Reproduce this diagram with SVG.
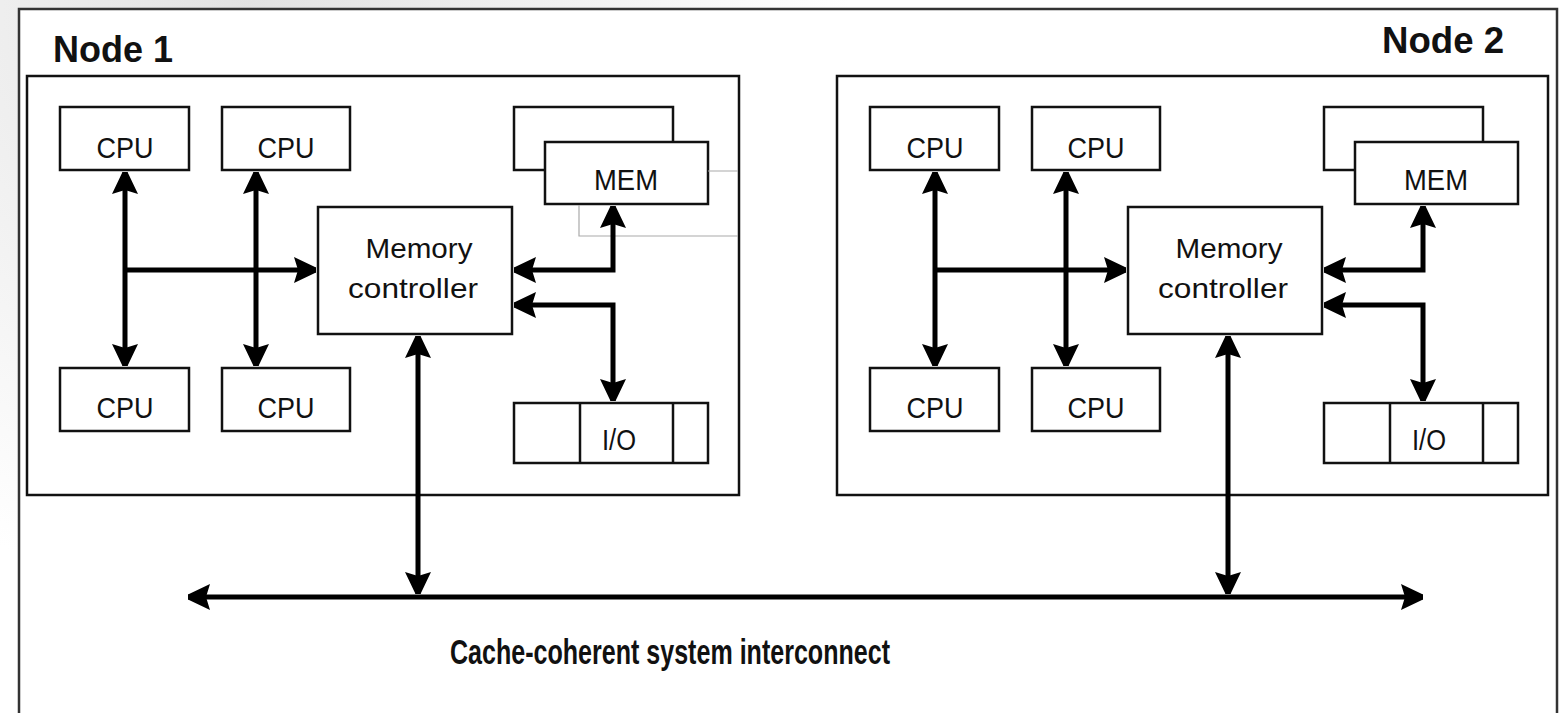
<svg xmlns="http://www.w3.org/2000/svg" width="1561" height="713" viewBox="0 0 1561 713">
<defs>
<radialGradient id="bg" cx="250" cy="0" r="600" gradientUnits="userSpaceOnUse">
<stop offset="0" stop-color="#e2e2e2"/>
<stop offset="1" stop-color="#ffffff"/>
</radialGradient>
<marker id="arr" viewBox="0 0 22 26" refX="22" refY="13" markerWidth="22" markerHeight="26" markerUnits="userSpaceOnUse" orient="auto-start-reverse">
<polygon points="0,0 22,10.5 22,15.5 0,26 4,13" fill="#000"/>
</marker>
<style>
.frame{fill:#fff;stroke:#333;stroke-width:2.5}
.box{fill:#fff;stroke:#111;stroke-width:2.5}
.div{stroke:#111;stroke-width:2.5}
.thin{fill:none;stroke:#aaa;stroke-width:1.2}
.wire{fill:none;stroke:#000;stroke-width:5}
.t{font-family:"Liberation Sans",Arial,sans-serif;fill:#111;text-anchor:middle}
.title{font-size:37px;font-weight:bold}
.lbl{font-size:29px}
.mc{font-size:28px}
.bus{font-size:35px;font-weight:bold}
</style>
</defs>
<rect x="0" y="0" width="1561" height="713" fill="url(#bg)"/>
<rect class="frame" x="19" y="9" width="1538" height="720"/>

<g id="node1">
<rect class="box" x="27" y="76" width="712" height="419"/>
<text class="t title" x="113" y="62" textLength="120" lengthAdjust="spacingAndGlyphs">Node 1</text>
</g>
<g id="node2">
<rect class="box" x="837" y="76" width="711" height="419"/>
<text class="t title" x="1443" y="53" textLength="122" lengthAdjust="spacingAndGlyphs">Node 2</text>
</g>

<g id="n1-cpu1"><rect class="box" x="60" y="107" width="129" height="63"/><text class="t lbl" x="125" y="158" textLength="57" lengthAdjust="spacingAndGlyphs">CPU</text></g>
<g id="n1-cpu2"><rect class="box" x="222" y="107" width="128" height="63"/><text class="t lbl" x="286" y="158" textLength="57" lengthAdjust="spacingAndGlyphs">CPU</text></g>
<g id="n1-cpu3"><rect class="box" x="60" y="368" width="129" height="63"/><text class="t lbl" x="125" y="418" textLength="57" lengthAdjust="spacingAndGlyphs">CPU</text></g>
<g id="n1-cpu4"><rect class="box" x="222" y="368" width="128" height="63"/><text class="t lbl" x="286" y="418" textLength="57" lengthAdjust="spacingAndGlyphs">CPU</text></g>
<g id="n1-mem">
<rect class="box" x="514" y="107" width="159" height="63"/>
<rect class="box" x="545" y="142" width="163" height="62"/>
<text class="t lbl" x="626" y="190" textLength="64" lengthAdjust="spacingAndGlyphs">MEM</text>
<path class="thin" d="M708,171 H738 M579,205 V236 H738"/>
</g>
<g id="n1-mc">
<rect class="box" x="318" y="207" width="194" height="127"/>
<text class="t mc" x="419" y="258" textLength="107" lengthAdjust="spacingAndGlyphs">Memory</text>
<text class="t mc" x="413" y="298" textLength="130" lengthAdjust="spacingAndGlyphs">controller</text>
</g>
<g id="n1-io">
<rect class="box" x="514" y="403" width="194" height="60"/>
<line class="div" x1="580" y1="403" x2="580" y2="463"/>
<line class="div" x1="673" y1="403" x2="673" y2="463"/>
<text class="t lbl" x="619" y="450" textLength="34" lengthAdjust="spacingAndGlyphs">I/O</text>
</g>

<g id="n2-cpu1"><rect class="box" x="870" y="107" width="129" height="63"/><text class="t lbl" x="935" y="158" textLength="57" lengthAdjust="spacingAndGlyphs">CPU</text></g>
<g id="n2-cpu2"><rect class="box" x="1032" y="107" width="128" height="63"/><text class="t lbl" x="1096" y="158" textLength="57" lengthAdjust="spacingAndGlyphs">CPU</text></g>
<g id="n2-cpu3"><rect class="box" x="870" y="368" width="129" height="63"/><text class="t lbl" x="935" y="418" textLength="57" lengthAdjust="spacingAndGlyphs">CPU</text></g>
<g id="n2-cpu4"><rect class="box" x="1032" y="368" width="128" height="63"/><text class="t lbl" x="1096" y="418" textLength="57" lengthAdjust="spacingAndGlyphs">CPU</text></g>
<g id="n2-mem">
<rect class="box" x="1324" y="107" width="159" height="63"/>
<rect class="box" x="1355" y="142" width="163" height="62"/>
<text class="t lbl" x="1436" y="190" textLength="64" lengthAdjust="spacingAndGlyphs">MEM</text>
</g>
<g id="n2-mc">
<rect class="box" x="1128" y="207" width="194" height="127"/>
<text class="t mc" x="1229" y="258" textLength="107" lengthAdjust="spacingAndGlyphs">Memory</text>
<text class="t mc" x="1223" y="298" textLength="130" lengthAdjust="spacingAndGlyphs">controller</text>
</g>
<g id="n2-io">
<rect class="box" x="1324" y="403" width="194" height="60"/>
<line class="div" x1="1390" y1="403" x2="1390" y2="463"/>
<line class="div" x1="1483" y1="403" x2="1483" y2="463"/>
<text class="t lbl" x="1429" y="450" textLength="34" lengthAdjust="spacingAndGlyphs">I/O</text>
</g>

<g id="bus-label">
<text class="t bus" x="670" y="664" textLength="440" lengthAdjust="spacingAndGlyphs">Cache-coherent system interconnect</text>
</g>

<g id="connectors">
<path class="wire" d="M125,172 V366" marker-start="url(#arr)" marker-end="url(#arr)"/>
<path class="wire" d="M256,172 V366" marker-start="url(#arr)" marker-end="url(#arr)"/>
<path class="wire" d="M125,270 H316" marker-end="url(#arr)"/>
<path class="wire" d="M613,206 V270 H514" marker-start="url(#arr)" marker-end="url(#arr)"/>
<path class="wire" d="M514,305 H613 V401" marker-start="url(#arr)" marker-end="url(#arr)"/>
<path class="wire" d="M418,336 V594" marker-start="url(#arr)" marker-end="url(#arr)"/>

<path class="wire" d="M935,172 V366" marker-start="url(#arr)" marker-end="url(#arr)"/>
<path class="wire" d="M1066,172 V366" marker-start="url(#arr)" marker-end="url(#arr)"/>
<path class="wire" d="M935,270 H1126" marker-end="url(#arr)"/>
<path class="wire" d="M1423,206 V270 H1324" marker-start="url(#arr)" marker-end="url(#arr)"/>
<path class="wire" d="M1324,305 H1423 V401" marker-start="url(#arr)" marker-end="url(#arr)"/>
<path class="wire" d="M1228,336 V594" marker-start="url(#arr)" marker-end="url(#arr)"/>

<path class="wire" d="M188,597 H1423" marker-start="url(#arr)" marker-end="url(#arr)"/>
</g>
</svg>
